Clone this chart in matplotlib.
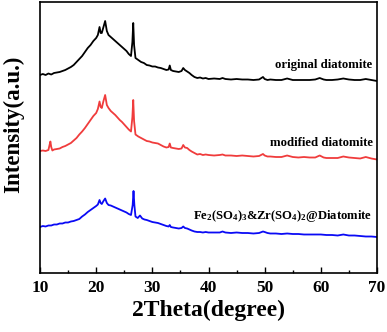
import matplotlib
matplotlib.use("Agg")
import matplotlib.pyplot as plt
from matplotlib.ticker import MultipleLocator

plt.rcParams['font.family'] = ['Liberation Serif', 'DejaVu Serif']
plt.rcParams['font.weight'] = 'bold'
plt.rcParams['mathtext.fontset'] = 'custom'
plt.rcParams['mathtext.bf'] = 'Liberation Serif:bold'
plt.rcParams['mathtext.rm'] = 'Liberation Serif:bold'
plt.rcParams['mathtext.default'] = 'bf'

# original diatomite
x_orig = [10, 10.5, 11, 11.5, 12, 12.5, 13, 13.5, 14, 14.5, 15, 15.5, 16, 16.5, 17, 17.5, 18, 18.5, 19, 19.5, 20,
          20.3, 20.6, 20.8, 21.0, 21.3, 21.6, 21.9, 22.2, 22.6, 23, 23.4, 23.8, 24.2, 24.6, 25, 25.4, 25.8, 26.2,
          26.45, 26.6, 26.75, 27.0, 27.5, 28, 28.5, 29, 29.5, 30, 30.5, 31, 31.5, 32, 32.5, 32.9, 33.1, 33.3, 33.7,
          34.2, 34.7, 35.2, 35.5, 35.8, 36.2, 36.6, 37, 37.5, 38, 38.5, 39, 39.5, 40, 41, 42, 42.5, 43, 44, 45, 46,
          47, 48, 49, 49.7, 50, 50.5, 51, 52, 53, 54, 55, 56, 57, 58, 59, 59.8, 60.5, 61, 62, 63, 64, 65, 66, 67,
          68, 69, 70]
y_orig = [198, 199, 198, 199.5, 198.5, 200, 200.5, 201, 202, 203, 204.5, 206, 208, 211, 214, 217, 221, 225, 228, 232, 235,
          238, 246, 240, 240, 246, 252, 242, 238, 236, 234, 232, 230, 228, 226, 224, 222, 219, 217,
          231, 250, 228, 215, 213, 211, 210, 208, 207.5, 206.5, 206.5, 205.5, 205, 204, 203, 203.5, 207.5, 203, 202,
          201.5, 201, 202, 205, 203, 201.5, 200, 198, 196, 195, 195.5, 194.5, 195, 194, 194.5, 194, 195, 194, 193.5, 194, 193.5,
          193.5, 193, 193.5, 196, 194, 193, 193.5, 193, 193, 194.5, 193, 193, 193, 193, 193.5, 195, 193.5, 193, 193, 193.5, 194.5, 193.5, 193, 193,
          194, 193, 192]

# modified diatomite
x_mod = [10, 10.5, 11, 11.5, 11.7, 11.85, 12.0, 12.2, 12.5, 13, 13.5, 14, 14.5, 15, 15.5, 16, 16.5, 17, 17.5, 18, 18.5,
         19, 19.5, 20, 20.3, 20.6, 20.8, 21.0, 21.3, 21.6, 21.9, 22.2, 22.6, 23, 23.4, 23.8, 24.2, 24.6, 25, 25.4,
         25.8, 26.2, 26.45, 26.6, 26.75, 27.0, 27.5, 28, 28.5, 29, 29.5, 30, 30.5, 31, 31.5, 32, 32.5, 32.9, 33.1,
         33.3, 33.7, 34.2, 34.7, 35.2, 35.5, 35.8, 36.2, 36.6, 37, 37.5, 38, 38.5, 39, 39.5, 40, 41, 42, 42.5, 43,
         44, 45, 46, 47, 48, 49, 49.7, 50, 50.5, 51, 52, 53, 54, 55, 56, 57, 58, 59, 59.8, 60.5, 61, 62, 63, 64,
         65, 66, 67, 68, 69, 70]
y_mod = [122, 122.5, 122, 123, 128, 131.5, 126, 122.5, 123.5, 124, 124.5, 126, 127, 128.5, 130, 132.5, 135, 138.5, 141.5, 145, 149,
         153, 157, 160, 164, 171.5, 166, 165, 172, 178, 168, 165, 162, 160, 158, 155.5, 153, 151, 148.5, 146,
         143.5, 141.5, 156, 173, 152, 138.5, 136.5, 135, 133.5, 132, 131.5, 130.5, 130, 129.5, 128, 126.5, 125.5, 126, 129.5,
         125.5, 125, 124.5, 124, 124.5, 128, 125.5, 125, 123, 121.5, 120, 118.5, 119, 118, 118.5, 118, 117.5, 118, 118.5, 117.5,
         117.5, 117, 117.5, 117, 116.5, 117, 119, 117.5, 116.5, 116.5, 116, 116, 117.5, 116, 115.5, 116, 115.5, 115.5, 117.5, 115.5, 115, 115, 115, 116.5,
         115.5, 115, 114.5, 116, 114.5, 113.5]

# Fe2(SO4)3&Zr(SO4)2@Diatomite
x_fezr = [10, 10.5, 11, 11.5, 12, 12.5, 13, 13.5, 14, 14.5, 15, 15.5, 16, 16.5, 17, 17.5, 18, 18.5, 19, 19.5, 20,
          20.3, 20.6, 20.8, 21.0, 21.3, 21.6, 21.9, 22.2, 22.6, 23, 23.4, 23.8, 24.2, 24.6, 25, 25.4, 25.8, 26.2,
          26.5, 26.65, 26.8, 27.0, 27.4, 27.8, 28.2, 28.6, 29, 29.5, 30, 30.5, 31, 31.5, 32, 32.5, 32.9, 33.1, 33.3,
          33.7, 34.2, 34.7, 35.2, 35.5, 35.8, 36.2, 36.6, 37, 37.5, 38, 38.5, 39, 39.5, 40, 41, 42, 42.5, 43, 44, 45,
          46, 47, 48, 49, 49.7, 50, 50.5, 51, 52, 53, 54, 55, 56, 57, 58, 59, 60, 61, 62, 63, 64, 65, 66, 67, 68,
          69, 70]
y_fezr = [46, 47, 46.5, 47.5, 47.5, 48.5, 48.5, 49.5, 49.5, 50.5, 50.5, 51.5, 52, 53, 54, 56.5, 58.5, 61, 63, 65, 67,
          68.5, 73, 70, 69, 72, 74.5, 70, 68, 67.5, 66.5, 65.5, 64.5, 63.5, 62.5, 61.5, 60.5, 59, 58,
          68, 82, 68, 56.5, 55, 57.5, 54.5, 53.5, 53, 52, 51, 50.5, 50, 49, 48, 47, 46.5, 48, 46,
          45.5, 45, 44.5, 45, 46.5, 45, 44.5, 43.5, 42.5, 41.5, 41, 41, 40.5, 41, 40.5, 40.5, 40.5, 41.5, 40.5, 40, 40.5,
          40, 40, 39.5, 40, 41.5, 41, 40, 39.5, 39.5, 39, 39.5, 39, 39, 38.5, 38.5, 38.5, 38.5, 38, 38, 37.5, 38.5, 37.5, 37.5, 37, 36.5,
          36.5, 36]

labels = ['original diatomite', 'modified diatomite',
          r'Fe$_2$(SO$_4$)$_3$&Zr(SO$_4$)$_2$@Diatomite']

fig = plt.figure(figsize=(3.87, 3.32), dpi=100)
ax = fig.add_axes([40 / 387, 1 - 273 / 332, 337 / 387, 271 / 332])

ax.plot(x_orig, y_orig, color='black', lw=1.3)
ax.plot(x_mod, y_mod, color='#f03c3c', lw=1.3)
ax.plot(x_fezr, y_fezr, color='#0a0af5', lw=1.3)

ax.text(69.2, 208, labels[0], ha='right', va='center', fontsize=9.2, fontweight='bold')
ax.text(69.2, 130, labels[1], ha='right', va='center', fontsize=9.2, fontweight='bold')
ax.text(69.2, 57, labels[2], ha='right', va='center', fontsize=9.1, fontweight='bold')

ax.set_xlim(10, 70)
ax.set_ylim(0, 271)
ax.xaxis.set_major_locator(MultipleLocator(10))
ax.xaxis.set_minor_locator(MultipleLocator(5))
ax.tick_params(axis='x', which='both', direction='in', labelsize=12.5, pad=5)
ax.tick_params(axis='x', which='major', length=4, width=1)
ax.tick_params(axis='x', which='minor', length=2.5, width=1)
ax.set_yticks([])
for s in ax.spines.values():
    s.set_linewidth(1.2)

ax.set_xlabel('2Theta(degree)', fontsize=17, fontweight='bold', labelpad=3)
ax.set_ylabel('Intensity(a.u.)', fontsize=16.5, fontweight='bold')
ax.yaxis.set_label_coords(-0.046, 0.55)

fig.savefig('out.png', dpi=100)
